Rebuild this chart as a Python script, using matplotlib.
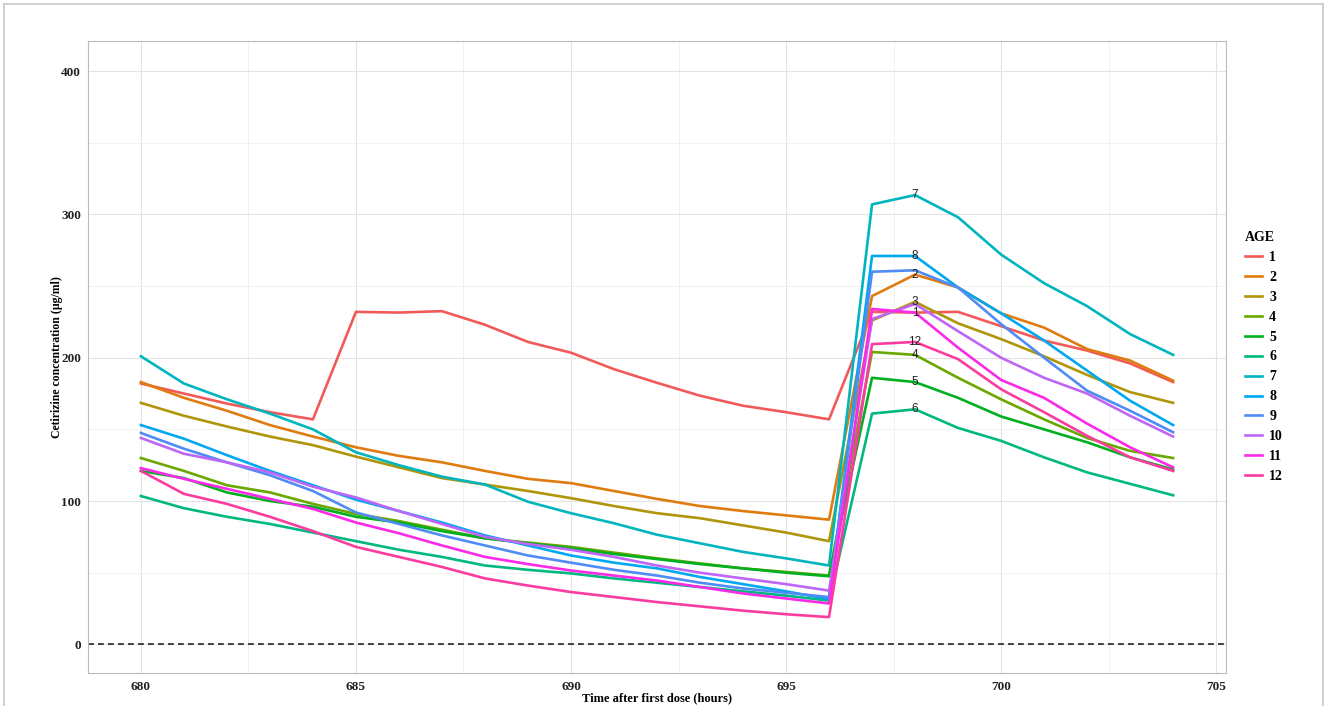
import numpy as np
import matplotlib
matplotlib.use("Agg")
import matplotlib.pyplot as plt
from matplotlib.lines import Line2D

# hourly time points after the first dose
hours = list(range(680, 705))

# predicted cetirizine concentration for each age group
age1 = [182, 175, 168, 162, 157, 232, 231.5, 232.5, 223, 211, 203.5, 192, 182.5, 173.5, 166.5, 162, 157, 232, 231.5, 232, 222, 212, 205, 196, 183]
age2 = [183, 172, 163, 153, 145, 137.5, 131.5, 127, 121, 115.5, 112.5, 107, 101.5, 96.5, 93, 90, 87, 243, 258, 249, 231, 221, 206, 198, 184]
age3 = [168.5, 159.5, 152, 145, 139, 131, 123.5, 116, 111.5, 107, 102, 96.5, 91.5, 88, 83, 78, 72, 226, 239, 224, 213, 201, 188, 176, 168.5]
age4 = [130, 121, 111, 106, 98, 91, 86, 80, 74, 71, 68, 64, 60, 56.5, 53, 50.5, 48, 204, 202, 186, 171, 157, 144, 135, 130]
age5 = [121, 116, 106, 100, 96, 89, 85, 79, 74, 70.5, 67, 63, 59.5, 56, 53, 50, 47.5, 186, 183, 172, 159, 150, 141, 130.5, 122]
age6 = [103.5, 95, 89, 84, 78, 72, 66, 61, 55, 52, 49.5, 46, 43, 40, 37, 34, 30.5, 161, 164, 151, 142, 130.5, 120, 112, 104]
age7 = [201, 182, 171, 161, 150, 134, 125, 117, 111.5, 99.5, 91.5, 84.5, 76.5, 70.5, 64.5, 60, 55, 307, 313.5, 298, 272, 252, 236, 216.5, 202]
age8 = [153, 143.5, 132, 121, 111, 101, 93, 85, 76, 69, 62, 57, 53, 47, 42, 37, 31.5, 271, 271, 249, 231, 212, 191, 170, 153]
age9 = [147.5, 136.5, 127, 118, 107, 92, 84, 76, 69, 62, 57, 52, 48, 43, 39, 36, 33, 260, 261, 249, 223.5, 200, 177, 163, 148]
age10 = [144, 133, 127, 120, 110, 102.5, 93, 84, 75, 70, 66, 61, 55, 50, 46, 42, 37.5, 227, 237.5, 218.5, 200, 186, 175, 159.5, 145]
age11 = [123, 115.5, 108.5, 101.5, 94.5, 85, 77.5, 69, 61, 56, 51.5, 48, 44.5, 40, 35.5, 32, 28.5, 234, 231.5, 207, 184.5, 172, 154, 137.5, 123.5]
age12 = [121, 105, 98, 89, 79, 68, 61, 54, 46, 41, 36.5, 33, 29.5, 26.5, 23.5, 21, 19, 209.5, 211, 199, 178, 162, 145.5, 130.5, 121]

series = [age1, age2, age3, age4, age5, age6, age7, age8, age9, age10, age11, age12]
age_labels = [str(i) for i in range(1, 13)]
label_hour = 698
# groups whose number is written on the curve (the crowded ones are skipped)
labelled = ["1", "2", "3", "4", "5", "6", "7", "8", "12"]

colors = ["#F25A5A", "#E07B10", "#B0950A", "#6AA800", "#00B020", "#00B880",
          "#00B5BE", "#00A8F0", "#4F8CF5", "#BE66F5", "#FA2AE8", "#FA3CA0"]

serif = ["Liberation Serif", "DejaVu Serif"]
sans = ["Liberation Sans", "DejaVu Sans"]

fig = plt.figure(figsize=(13.28, 7.06), dpi=100)
ax = fig.add_axes([88/1328, 1 - 673/706, (1226-88)/1328, (673-41)/706])

for vals, col, lab in zip(series, colors, age_labels):
    ax.plot(hours, vals, color=col, linewidth=1.9, label=lab, zorder=3)

# number of each age group written at hour 698
for vals, lab in zip(series, age_labels):
    if lab in labelled:
        ax.text(label_hour, vals[hours.index(label_hour)], lab, ha="center", va="center",
                fontsize=8.5, family=sans, color="#222222", zorder=4)

ax.axhline(0, color="#222222", linestyle=(0, (3.5, 2.5)), linewidth=1.2, zorder=2)

ax.set_xlim(678.77, 705.23)
ax.set_ylim(-20, 421)
ax.set_xticks([680, 685, 690, 695, 700, 705])
ax.set_yticks([0, 100, 200, 300, 400])
ax.set_xticks([682.5, 687.5, 692.5, 697.5, 702.5], minor=True)
ax.set_yticks([50, 150, 250, 350], minor=True)
ax.grid(which="major", color="#E3E3E3", linewidth=0.8, zorder=0)
ax.grid(which="minor", color="#EFEFEF", linewidth=0.6, zorder=0)
ax.set_axisbelow(True)
ax.tick_params(axis="x", which="both", length=0, pad=6)
ax.tick_params(axis="y", which="both", length=0, pad=5)
for t in ax.get_xticklabels() + ax.get_yticklabels():
    t.set_family(serif)
    t.set_fontweight("bold")
    t.set_fontsize(9.5)
    t.set_color("#222222")
for sp in ax.spines.values():
    sp.set_color("#BBBBBB")
    sp.set_linewidth(0.8)

ax.set_xlabel("Time after first dose (hours)", family=serif, fontweight="bold",
              fontsize=9, labelpad=-1)
ax.set_ylabel("Cetirizine concentration (µg/ml)", family=serif, fontweight="bold",
              fontsize=8.5, labelpad=-1)

handles = [Line2D([], [], color=c, linewidth=1.9) for c in colors]
leg = ax.legend(handles, age_labels, title="AGE", loc="center left",
                bbox_to_anchor=(1.006, 0.50), frameon=False, handlelength=1.22,
                handletextpad=0.5, labelspacing=0.5,
                prop={"family": serif, "weight": "bold", "size": 10})
leg.get_title().set_fontproperties({"family": serif, "weight": "bold", "size": 10})
leg._legend_box.align = "left"

# thin frame around the whole figure
for xs, ys in [([4, 4], [0, 702]), ([4, 1323], [702, 702]), ([1323, 1323], [0, 702])]:
    fig.add_artist(Line2D(np.array(xs) / 1328, np.array(ys) / 706,
                          color="#C8C8C8", linewidth=1.2))

fig.savefig("out.png", dpi=100)
